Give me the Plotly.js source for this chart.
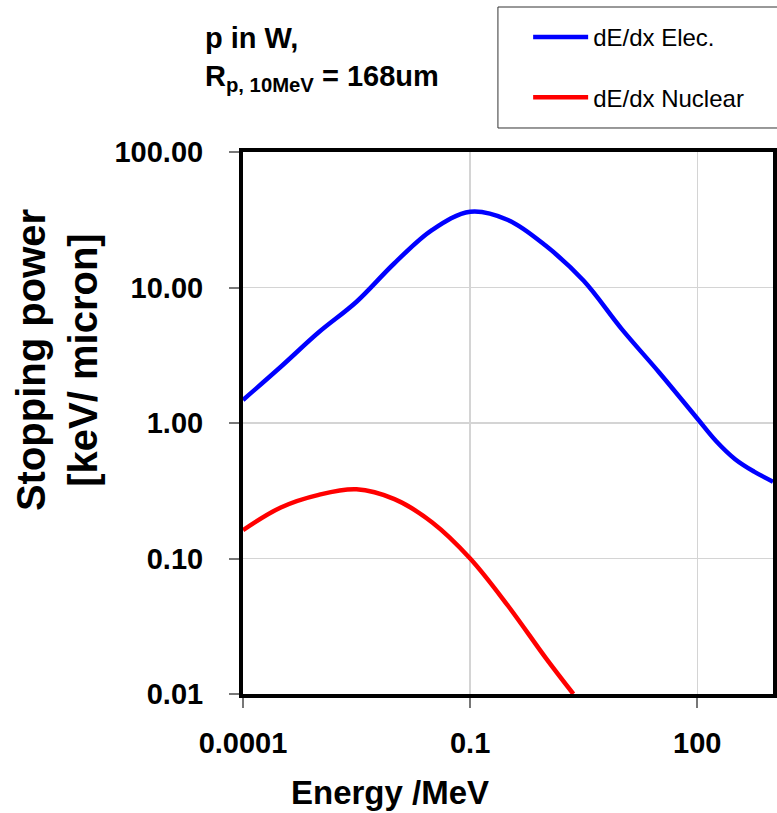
<!DOCTYPE html>
<html>
<head>
<meta charset="utf-8">
<script src="https://cdn.plot.ly/plotly-3.0.1.min.js"></script>
<style>html,body{margin:0;padding:0;background:#fff;}#chart{width:777px;height:813px;}</style>
</head>
<body>
<div id="chart"></div>
<script>
// Electronic stopping power (keV/micron) vs proton energy (MeV)
const energyElec = [1e-4, 3.16e-4, 1e-3, 3.16e-3, 0.01, 0.0316, 0.1, 0.316, 1, 3.16, 10, 31.6, 100, 178, 316, 562, 1000];
const stopElec   = [1.48, 2.60, 4.67, 7.85, 15.1, 26.6, 36.2, 31.5, 20.3, 11.2, 4.95, 2.35, 1.08, 0.734, 0.541, 0.438, 0.369];
// Nuclear stopping power
const energyNuc = [1e-4, 3.16e-4, 1e-3, 3.16e-3, 0.01, 0.0316, 0.1, 0.316, 1, 2.31];
const stopNuc   = [0.162, 0.238, 0.295, 0.324, 0.274, 0.1845, 0.1, 0.0448, 0.0184, 0.01];

const xTickVals = [1e-4, 0.1, 100];
const xTickText = ["0.0001", "0.1", "100"];
const yTickVals = [0.01, 0.1, 1, 10, 100];
const yTickText = ["0.01", "0.10", "1.00", "10.00", "100.00"];

const FONT = "Arial, 'Liberation Sans', sans-serif";

const traces = [
  {x: energyElec, y: stopElec, type: "scatter", mode: "lines", name: "dE/dx Elec.",
   line: {color: "#0000ff", width: 4.5, shape: "spline", smoothing: 1}, legendgroup: "a"},
  {x: energyNuc, y: stopNuc, type: "scatter", mode: "lines", name: "dE/dx Nuclear",
   line: {color: "#ff0000", width: 4.5, shape: "spline", smoothing: 1}, legendgroup: "b"}
];

const layout = {
  width: 777, height: 813,
  margin: {l: 243, r: 4, t: 152, b: 119},
  paper_bgcolor: "#fff", plot_bgcolor: "#fff",
  font: {family: FONT, color: "#000"},
  showlegend: true,
  legend: {x: 0.538, y: 1.253, xanchor: "left", yanchor: "top",
    borderwidth: 0, bgcolor: "rgba(0,0,0,0)",
    font: {family: FONT, size: 24, color: "#000"},
    traceorder: "grouped", tracegroupgap: 26, itemwidth: 55},
  shapes: [
    // legend frame, running off the right edge as in the reference
    {type: "rect", xref: "paper", yref: "paper", x0: 0.481, x1: 1.02, y0: 1.0443, y1: 1.2675,
     line: {color: "#333", width: 1}, fillcolor: "rgba(0,0,0,0)", layer: "below"}
  ],
  xaxis: {type: "log", range: [-4, 3], tickvals: xTickVals, ticktext: xTickText,
    showgrid: true, gridcolor: "#d4d4d4", gridwidth: 1.5,
    showline: true, mirror: true, linecolor: "#000", linewidth: 4,
    ticks: "outside", ticklen: 10, tickwidth: 2, tickcolor: "#777",
    ticklabelstandoff: 10,
    tickfont: {family: FONT, size: 29, weight: "bold", color: "#000"}, zeroline: false},
  yaxis: {type: "log", range: [-2, 2], tickvals: yTickVals, ticktext: yTickText,
    showgrid: true, gridcolor: "#d4d4d4", gridwidth: 1.5,
    showline: true, mirror: true, linecolor: "#000", linewidth: 4,
    ticks: "outside", ticklen: 10, tickwidth: 2, tickcolor: "#777",
    ticklabelstandoff: 20,
    tickfont: {family: FONT, size: 29, weight: "bold", color: "#000"}, zeroline: false},
  annotations: [
    {text: "Stopping power<br>[keV/ micron]", xref: "paper", yref: "paper",
     x: -0.351, y: 0.616, xanchor: "center", yanchor: "middle", textangle: -90,
     showarrow: false, font: {family: FONT, size: 40, weight: "bold", color: "#000"}},
    {text: "Energy /MeV", xref: "paper", yref: "paper",
     x: 0.277, y: -0.182, xanchor: "center", yanchor: "middle",
     showarrow: false, font: {family: FONT, size: 33, weight: "bold", color: "#000"}},
    {text: "p in W,<br>R<sub>p, 10MeV</sub> = 168um", xref: "paper", yref: "paper",
     x: -0.0755, y: 1.2435, xanchor: "left", yanchor: "top", align: "left",
     showarrow: false, font: {family: FONT, size: 29, weight: "bold", color: "#000"}}
  ]
};

Plotly.newPlot("chart", traces, layout, {displayModeBar: false, staticPlot: true});
</script>
</body>
</html>
